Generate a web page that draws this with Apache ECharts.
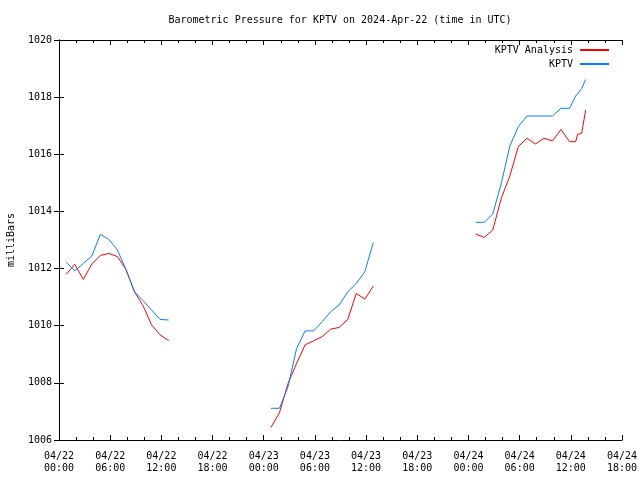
<!DOCTYPE html>
<html>
<head>
<meta charset="utf-8">
<script src="https://cdn.jsdelivr.net/npm/echarts@6/dist/echarts.min.js"></script>
<style>html,body{margin:0;padding:0;background:#fff}#c{width:640px;height:480px}</style>
</head>
<body>
<div id="c"></div>
<script>
// hours since 2024-04-22 00:00 UTC
const seg1Hours = [0.85,1.85,2.85,3.85,4.85,5.85,6.85,7.85,8.85,9.85,10.85,11.85,12.85];
const seg1Analysis = [1011.8,1012.15,1011.62,1012.16,1012.46,1012.53,1012.42,1011.97,1011.19,1010.7,1010.03,1009.68,1009.48];
const seg1Kptv = [1012.22,1011.92,1012.18,1012.44,1013.2,1013.02,1012.65,1011.97,1011.19,1010.88,1010.55,1010.22,1010.2];

const seg2Hours = [24.85,25.85,26.85,27.85,28.85,29.85,30.85,31.85,32.85,33.85,34.85,35.85,36.85];
const seg2Analysis = [1006.44,1006.96,1007.98,1008.68,1009.33,1009.47,1009.62,1009.88,1009.94,1010.22,1011.13,1010.93,1011.39];
const seg2Kptv = [1007.11,1007.11,1007.87,1009.2,1009.82,1009.82,1010.14,1010.49,1010.73,1011.19,1011.48,1011.89,1012.91];

const seg3Hours = [48.85,49.85,50.85,51.85,52.85,53.85,54.85,55.85,56.85,57.85,58.85,59.85,60.57,60.8,61.27,61.74];
const seg3Analysis = [1013.21,1013.09,1013.35,1014.46,1015.24,1016.27,1016.56,1016.36,1016.56,1016.47,1016.87,1016.44,1016.44,1016.7,1016.73,1017.55];
const seg3Kptv = [1013.62,1013.62,1013.91,1014.98,1016.29,1016.97,1017.34,1017.34,1017.34,1017.34,1017.61,1017.61,1018.04,1018.04,1018.3,1018.62];

const seriesNames = ['KPTV Analysis','KPTV'];
const titleText = 'Barometric Pressure for KPTV on 2024-Apr-22 (time in UTC)';
const yName = 'milliBars';

function build(segs){
  const out = [];
  segs.forEach((s, i) => {
    if (i > 0) out.push([s[0][0] - 1, null]);
    s[0].forEach((h, j) => out.push([h, s[1][j]]));
  });
  return out;
}
const analysisData = build([[seg1Hours,seg1Analysis],[seg2Hours,seg2Analysis],[seg3Hours,seg3Analysis]]);
const kptvData = build([[seg1Hours,seg1Kptv],[seg2Hours,seg2Kptv],[seg3Hours,seg3Kptv]]);

const FONT = 'DejaVu Sans Mono';
const pad = n => (n < 10 ? '0' : '') + n;
function xLabel(v){
  const d = 22 + Math.floor(v / 24);
  const h = v % 24;
  return '04/' + pad(d) + '\n' + pad(h) + ':00';
}
const axisLineStyle = {color:'#000', width:1};
const chart = echarts.init(document.getElementById('c'), null, {renderer:'canvas'});
chart.setOption({
  animation:false,
  backgroundColor:'#fff',
  title:{text:titleText, left:340, textAlign:'center', top:15, padding:0,
    textStyle:{fontFamily:FONT, fontSize:10, fontWeight:'normal', color:'#000'}},
  legend:{orient:'vertical', right:31, top:45, padding:0, align:'right', itemWidth:29, itemHeight:2, itemGap:4,
    icon:'rect',
    textStyle:{fontFamily:FONT, fontSize:10, color:'#000', padding:[0,2,0,0]},
    data:seriesNames},
  grid:{left:59, right:18, top:40, bottom:40, containLabel:false, outerBoundsMode:'none'},
  xAxis:[{type:'value', min:0, max:66, interval:6, position:'bottom',
    axisLine:{show:true, lineStyle:axisLineStyle},
    axisTick:{show:true, inside:true, length:5, lineStyle:axisLineStyle},
    minorTick:{show:true, splitNumber:3, length:3, lineStyle:axisLineStyle},
    splitLine:{show:false},
    axisLabel:{formatter:xLabel, fontFamily:FONT, fontSize:10, color:'#000', lineHeight:12, margin:10,
      showMinLabel:true, showMaxLabel:true}},
   {type:'value', min:0, max:66, interval:6, position:'top',
    axisLine:{show:true, lineStyle:axisLineStyle},
    axisTick:{show:true, inside:true, length:5, lineStyle:axisLineStyle},
    minorTick:{show:true, splitNumber:3, length:3, lineStyle:axisLineStyle},
    splitLine:{show:false}, axisLabel:{show:false}}],
  yAxis:[{type:'value', min:1006, max:1020, interval:2, position:'left',
    name:yName, nameLocation:'middle', nameRotate:90, nameGap:43,
    nameTextStyle:{fontFamily:FONT, fontSize:10, color:'#000'},
    axisLine:{show:true, lineStyle:axisLineStyle},
    axisTick:{show:true, inside:true, length:5, lineStyle:axisLineStyle},
    splitLine:{show:false},
    axisLabel:{formatter: v => String(v), fontFamily:FONT, fontSize:10, color:'#000', margin:7}},
   {type:'value', min:1006, max:1020, interval:2, position:'right',
    axisLine:{show:true, lineStyle:axisLineStyle},
    axisTick:{show:true, inside:true, length:5, lineStyle:axisLineStyle},
    splitLine:{show:false}, axisLabel:{show:false}}],
  series:[
    {name:seriesNames[0], type:'line', xAxisIndex:0, yAxisIndex:0, data:analysisData,
     showSymbol:false, connectNulls:false, color:'#ff0000', lineStyle:{width:1, color:'#ff0000'}},
    {name:seriesNames[1], type:'line', xAxisIndex:0, yAxisIndex:0, data:kptvData,
     showSymbol:false, connectNulls:false, color:'#0080ff', lineStyle:{width:1, color:'#0080ff'}}
  ]
});
</script>
</body>
</html>
